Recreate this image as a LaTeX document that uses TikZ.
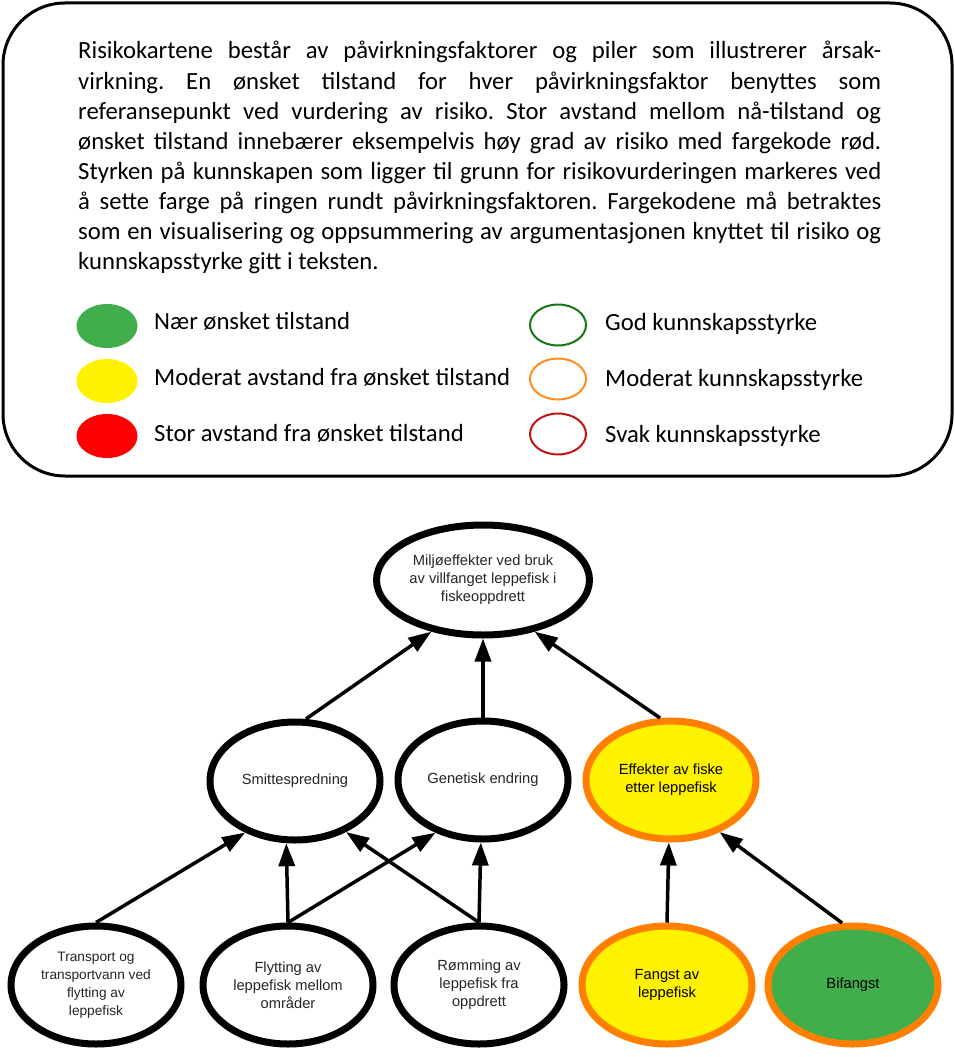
\documentclass[tikz,border=0pt]{standalone}
\usepackage{fontspec}
\setmainfont{Carlito}
\newfontfamily\nodefont{Liberation Sans}
\usetikzlibrary{shapes.geometric,arrows.meta}
\frenchspacing

\definecolor{riskgreen}{RGB}{64,174,74}
\definecolor{riskyellow}{RGB}{255,242,0}
\definecolor{riskred}{RGB}{255,0,0}
\definecolor{ringorange}{RGB}{255,128,0}
\definecolor{ringgood}{RGB}{22,118,22}
\definecolor{ringmid}{RGB}{255,140,30}
\definecolor{ringweak}{RGB}{190,20,20}

\newcommand{\fullline}[1]{\makebox[803pt][s]{#1}}

\tikzset{
  introline/.style={anchor=base west,inner sep=0pt,font=\fontsize{24.7}{30}\selectfont},
  legendline/.style={anchor=base west,inner sep=0pt,font=\fontsize{24.7}{30}\selectfont},
  factor/.style={ellipse,draw=black,line width=7pt,fill=white,minimum width=170pt,minimum height=118pt,
    inner sep=0pt,align=center,text=black!85,font=\nodefont\fontsize{14.7}{18}\selectfont},
  factormid/.style={factor,draw=ringorange,fill=riskyellow,text=black},
  factorok/.style={factor,draw=ringorange,fill=riskgreen,text=black},
  link/.style={->,line width=3.5pt}
}

\begin{document}
\begin{tikzpicture}[x=1pt,y=-1pt,>={Triangle[length=23pt,width=16pt]}]
  \useasboundingbox (0,0) rectangle (955,1057);
  % forklaring
  \draw[line width=3pt,rounded corners=62pt] (3,3) rectangle (952,476);
  \foreach \linetext [count=\lineno] in {
    {Risikokartene består av påvirkningsfaktorer og piler som illustrerer årsak-},
    {virkning. En ønsket tilstand for hver påvirkningsfaktor benyttes som},
    {referansepunkt ved vurdering av risiko. Stor avstand mellom nå-tilstand og},
    {ønsket tilstand innebærer eksempelvis høy grad av risiko med fargekode rød.},
    {Styrken på kunnskapen som ligger til grunn for risikovurderingen markeres ved},
    {å sette farge på ringen rundt påvirkningsfaktoren. Fargekodene må betraktes},
    {som en visualisering og oppsummering av argumentasjonen knyttet til risiko og}}{
    \node[introline] (intro\lineno) at (78,{29+30*\lineno}) {\fullline{\linetext}};
  }
  \node[introline] (intro8) at (78,269) {kunnskapsstyrke gitt i teksten.};
  \foreach \rowy/\basey/\fillcol/\legtext [count=\legno] in {
    326/329/riskgreen/{Nær ønsket tilstand},
    381/385/riskyellow/{Moderat avstand fra ønsket tilstand},
    436/441/riskred/{Stor avstand fra ønsket tilstand}}{
    \fill[\fillcol] (107,\rowy) ellipse (30.5 and 22);
    \node[legendline] (state\legno) at (154,\basey) {\legtext};
  }
  \foreach \rowy/\basey/\ringcol/\legtext [count=\legno] in {
    325/330/ringgood/{God kunnskapsstyrke},
    379/386/ringmid/{Moderat kunnskapsstyrke},
    434/442/ringweak/{Svak kunnskapsstyrke}}{
    \draw[\ringcol,line width=2pt] (558,\rowy) ellipse (28 and 20.5);
    \node[legendline] (ring\legno) at (605,\basey) {\legtext};
  }
  % risikokart
  \node[factor,minimum width=213pt,minimum height=110pt] (miljo) at (483,580)
    {Miljøeffekter ved bruk\\av villfanget leppefisk i\\fiskeoppdrett};
  \node[factor] (smitte) at (295,781) {Smittespredning};
  \node[factor] (genetisk) at (483,780) {Genetisk endring};
  \node[factormid] (effekter) at (671,780) {Effekter av fiske\\etter leppefisk};
  \node[factor,font=\nodefont\fontsize{13.7}{18}\selectfont] (transport) at (96,985)
    {Transport og\\transportvann ved\\flytting av\\leppefisk};
  \node[factor] (flytting) at (288,985) {Flytting av\\leppefisk mellom\\områder};
  \node[factor] (romming) at (479,985) {Rømming av\\leppefisk fra\\oppdrett};
  \node[factormid] (fangst) at (667,985) {Fangst av\\leppefisk};
  \node[factorok] (bifangst) at (853,985) {Bifangst};
  \draw[link] (smitte.80) -- (miljo.225);
  \draw[link] (genetisk.north) -- (miljo.south);
  \draw[link] (effekter.100) -- (miljo.315);
  \draw[link] (transport.north) -- (smitte.226);
  \draw[link] (flytting.north) -- (smitte.262);
  \draw[link] (flytting.north) -- (genetisk.228);
  \draw[link] (romming.north) -- (smitte.315);
  \draw[link] (romming.north) -- (genetisk.268);
  \draw[link] (fangst.north) -- (effekter.268);
  \draw[link] (bifangst.100) -- (effekter.313);
\end{tikzpicture}
\end{document}
